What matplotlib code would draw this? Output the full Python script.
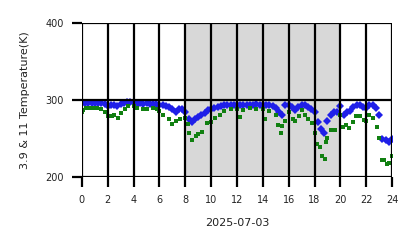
import matplotlib
matplotlib.use("Agg")
import matplotlib.pyplot as plt

# Blue series (3.9 um) - hours and temperature (K)
blue_hours = [0, 0.25, 0.5, 0.75, 1.0, 1.25, 1.5, 1.75, 2.0, 2.25, 2.5, 2.75, 3.0, 3.25, 3.5, 3.75,
              4.0, 4.25, 4.5, 4.75, 5.0, 5.25, 5.5, 5.75, 6.0, 6.25, 6.5, 6.75, 7.0, 7.25, 7.5, 7.75,
              8.0, 8.25, 8.5, 8.75, 9.0, 9.25, 9.5, 9.75, 10.0, 10.25, 10.5, 10.75, 11.0, 11.25, 11.5, 11.75,
              12.0, 12.25, 12.5, 12.75, 13.0, 13.25, 13.5, 13.75, 14.0, 14.25, 14.5, 14.75, 15.0, 15.25, 15.5, 15.75,
              16.0, 16.25, 16.5, 16.75, 17.0, 17.25, 17.5, 17.75, 18.0, 18.25, 18.5, 18.75, 19.0, 19.25, 19.5, 19.75,
              20.0, 20.25, 20.5, 20.75, 21.0, 21.25, 21.5, 21.75, 22.0, 22.25, 22.5, 22.75, 23.0, 23.25, 23.5, 23.75, 24.0]
blue_temps = [296, 296, 296, 296, 296, 296, 296, 295, 292, 293, 294, 292, 295, 296, 297, 298,
              296, 295, 296, 295, 296, 295, 295, 295, 293, 293, 292, 291, 289, 284, 289, 288,
              285, 276, 272, 275, 278, 280, 283, 287, 288, 290, 291, 292, 293, 294, 294, 293,
              293, 294, 294, 294, 294, 294, 295, 294, 294, 293, 293, 292, 290, 285, 281, 293,
              294, 291, 287, 291, 294, 293, 291, 289, 284, 271, 262, 257, 273, 280, 284, 285,
              292, 281, 284, 286, 291, 294, 293, 291, 290, 294, 293, 290, 281, 250, 248, 245, 250]

# Green series (11 um)
green_hours = [0.0, 0.1, 0.3, 0.6, 0.9, 1.2, 1.5, 1.8, 2.0, 2.3, 2.5, 2.8, 3.0, 3.3, 3.6, 4.0, 4.3, 4.7,
               5.0, 5.5, 5.8, 6.0, 6.3, 6.7, 7.0, 7.3, 7.6, 8.0, 8.2, 8.3, 8.5, 8.8, 9.0, 9.3, 9.7, 10.0,
               10.3, 10.7, 11.0, 11.5, 12.0, 12.2, 12.5, 13.0, 13.5, 14.0, 14.2, 14.5, 15.0, 15.2, 15.4,
               15.5, 15.7, 16.0, 16.3, 16.5, 16.8, 17.0, 17.3, 17.5, 17.8, 18.0, 18.2, 18.4, 18.6, 18.8,
               18.9, 19.0, 19.3, 19.6, 20.0, 20.2, 20.4, 20.7, 21.0, 21.2, 21.5, 21.8, 22.0, 22.2, 22.5,
               22.8, 23.0, 23.2, 23.4, 23.6, 23.8, 24.0]
green_temps = [285, 287, 290, 290, 290, 290, 289, 284, 279, 279, 280, 277, 283, 289, 292, 292, 290, 289,
               289, 290, 288, 286, 280, 276, 269, 273, 276, 277, 269, 257, 248, 253, 256, 259, 270, 271,
               277, 281, 286, 288, 288, 278, 287, 290, 288, 288, 276, 286, 280, 268, 257,
               266, 273, 284, 275, 273, 279, 287, 280, 275, 270, 257, 243, 239, 228, 223,
               245, 251, 261, 261, 280, 265, 268, 264, 271, 279, 279, 274, 273, 281, 277,
               265, 251, 222, 222, 217, 218, 227]

x_ticks = list(range(0, 25, 2))
y_ticks = [200, 300, 400]
x_label = "2025-07-03"
y_label = "3.9 & 11 Temperature(K)"

fig = plt.figure(figsize=(4.18, 2.48), dpi=100)
ax = fig.add_axes([0.196, 0.286, 0.742, 0.621])
ax.axvspan(8, 20, color="#d8d8d8", zorder=0, lw=0)
ax.plot(blue_hours, blue_temps, linestyle="none", marker="D", markersize=3.8,
        color="#1f1fe8", markeredgewidth=0, zorder=1.2)
ax.plot(green_hours, green_temps, linestyle="none", marker="s", markersize=3.1,
        color="#118011", markeredgewidth=0, zorder=1.4)

ax.set_xlim(0, 24)
ax.set_ylim(200, 400)
ax.set_xticks(x_ticks)
ax.set_yticks(y_ticks)
for s in ax.spines.values():
    s.set_visible(False)
ax.grid(True, color="black", linewidth=1.6)
ax.set_axisbelow(False)
for gl in ax.get_xgridlines() + ax.get_ygridlines():
    gl.set_zorder(2)
ax.tick_params(axis="both", length=7, width=1.6, color="black", labelsize=7,
               labelcolor="#222222")
ax.tick_params(axis="x", pad=6)
ax.tick_params(axis="y", pad=6)
ax.set_xlabel(x_label, fontsize=8, color="#222222", labelpad=9.5)
ax.set_ylabel(y_label, fontsize=8, color="#222222", labelpad=11)

fig.savefig("out.png", dpi=100)
